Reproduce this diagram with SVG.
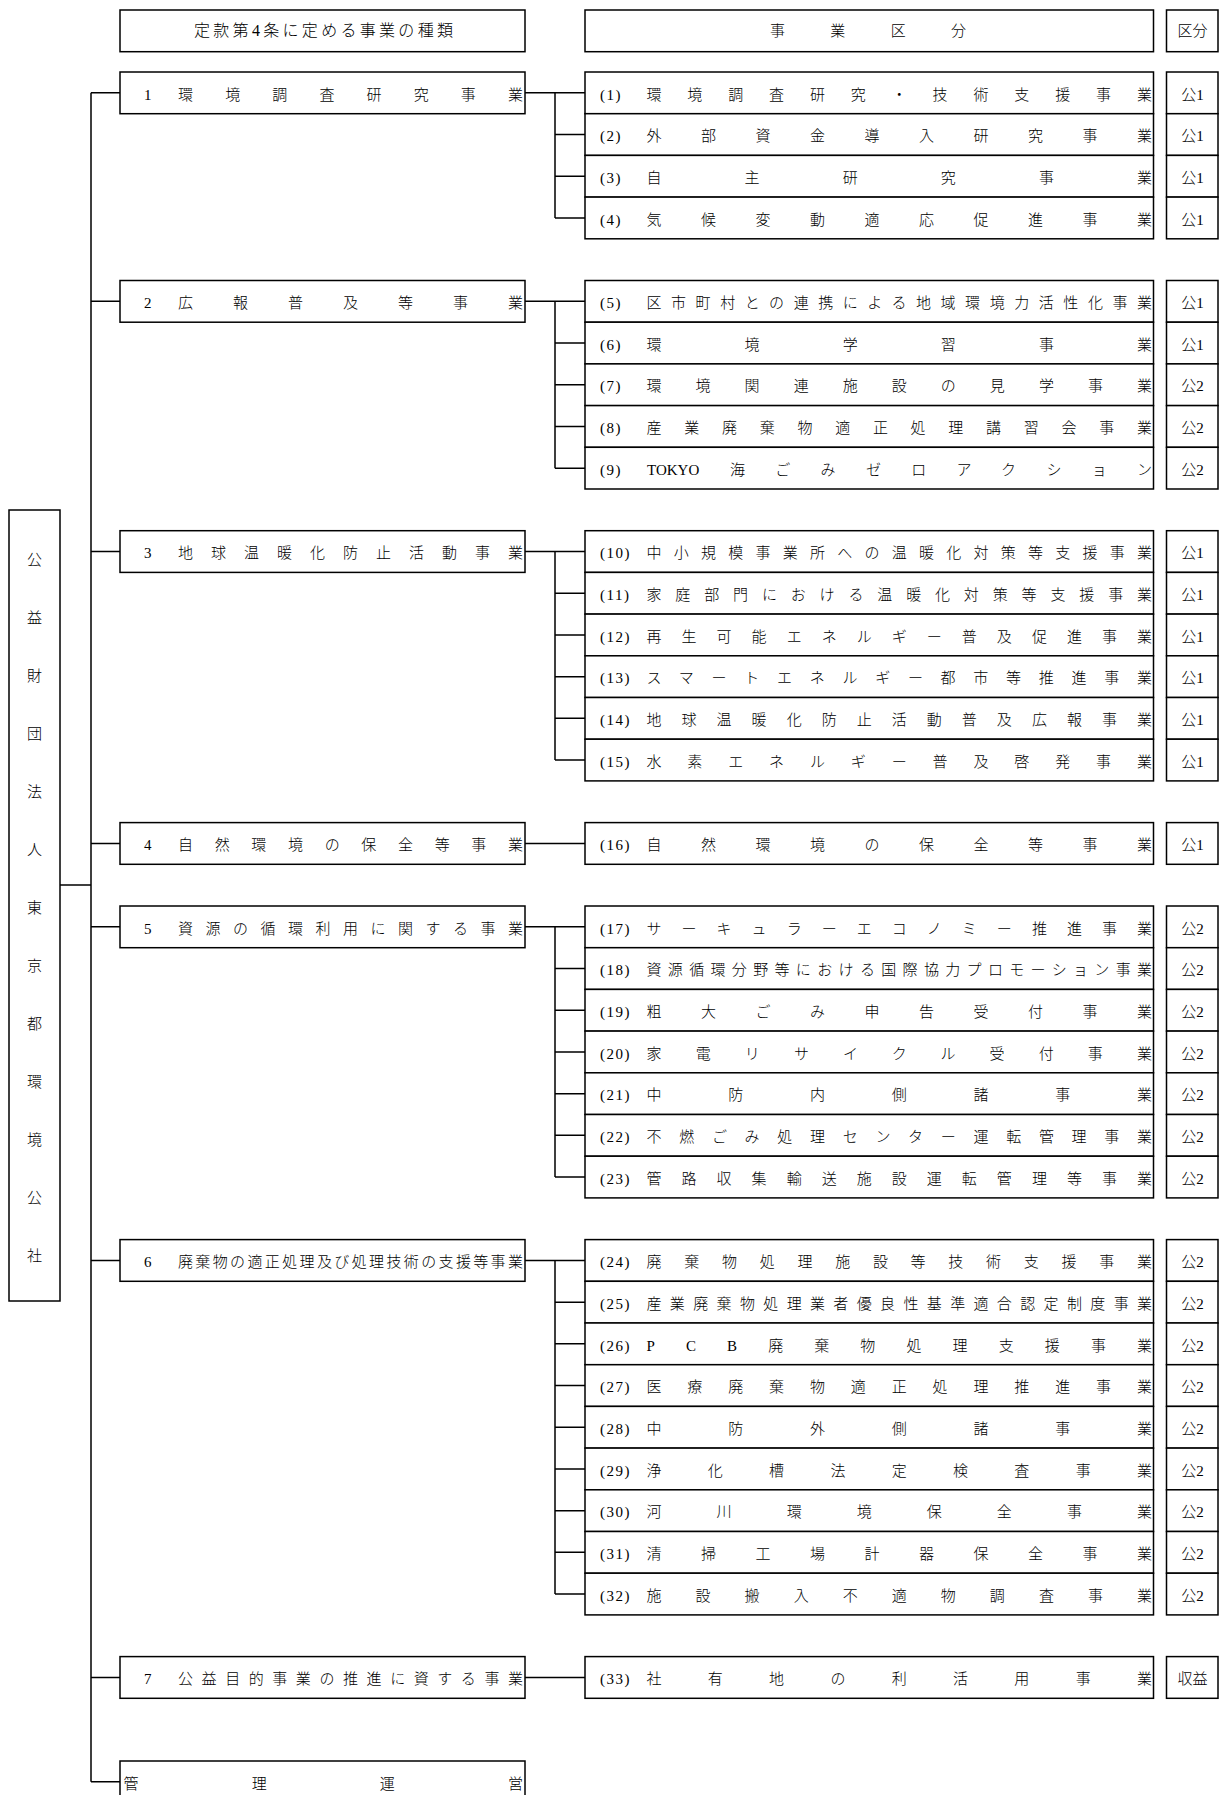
<svg xmlns="http://www.w3.org/2000/svg" width="1221" height="1795" viewBox="0 0 1221 1795">
<style>
.b{fill:#fff;stroke:#000;stroke-width:1.5}
.c{fill:none;stroke:#000;stroke-width:1.5}
text{font-family:"Liberation Serif","Noto Sans CJK JP",serif;font-size:15px;font-weight:300;fill:#000}
.m{text-anchor:middle}
.l{letter-spacing:1.5px}
</style>
<rect width="1221" height="1795" fill="#fff"/>
<g id="connectors" class="c">
<path d="M91 92.85V1781.85M60 885H91M91 92.85H120M91 301.35H120M91 551.55H120M91 843.45H120M91 926.85H120M91 1260.45H120M91 1677.45H120M91 1781.85H120"/>
<path d="M525 92.85H585M555 92.85V217.95M555 134.55H585M555 176.25H585M555 217.95H585"/>
<path d="M525 301.35H585M555 301.35V468.15M555 343.05H585M555 384.75H585M555 426.45H585M555 468.15H585"/>
<path d="M525 551.55H585M555 551.55V760.05M555 593.25H585M555 634.95H585M555 676.65H585M555 718.35H585M555 760.05H585"/>
<path d="M525 843.45H585"/>
<path d="M525 926.85H585M555 926.85V1177.05M555 968.55H585M555 1010.25H585M555 1051.95H585M555 1093.65H585M555 1135.35H585M555 1177.05H585"/>
<path d="M525 1260.45H585M555 1260.45V1594.05M555 1302.15H585M555 1343.85H585M555 1385.55H585M555 1427.25H585M555 1468.95H585M555 1510.65H585M555 1552.35H585M555 1594.05H585"/>
<path d="M525 1677.45H585"/>
</g>
<g id="h1"><rect class="b" x="120" y="10" width="405" height="41.7"/><text x="194" y="36" textLength="259" lengthAdjust="spacing" style="font-size:16px">定款第4条に定める事業の種類</text></g>
<g id="h2"><rect class="b" x="585" y="10" width="568.5" height="41.7"/><text x="770" y="36" textLength="196" lengthAdjust="spacing">事業区分</text></g>
<g id="h3"><rect class="b" x="1166.5" y="10" width="51.5" height="41.7"/><text class="m" x="1192.5" y="36">区分</text></g>
<g id="org"><rect class="b" x="9" y="510" width="51" height="791"/><text class="m" x="34.5 34.5 34.5 34.5 34.5 34.5 34.5 34.5 34.5 34.5 34.5 34.5 34.5" y="564.7 622.7 680.7 738.7 796.7 854.7 912.7 970.7 1028.7 1086.7 1144.7 1202.7 1260.7">公益財団法人東京都環境公社</text></g>
<g id="n1" transform="translate(0,72)"><rect class="b" x="120" width="405" height="41.7"/><text x="144" y="27.5">1</text><text x="178" y="27.5" textLength="345" lengthAdjust="spacing">環境調査研究事業</text></g>
<g id="n2" transform="translate(0,280.5)"><rect class="b" x="120" width="405" height="41.7"/><text x="144" y="27.5">2</text><text x="178" y="27.5" textLength="345" lengthAdjust="spacing">広報普及等事業</text></g>
<g id="n3" transform="translate(0,530.7)"><rect class="b" x="120" width="405" height="41.7"/><text x="144" y="27.5">3</text><text x="178" y="27.5" textLength="345" lengthAdjust="spacing">地球温暖化防止活動事業</text></g>
<g id="n4" transform="translate(0,822.6)"><rect class="b" x="120" width="405" height="41.7"/><text x="144" y="27.5">4</text><text x="178" y="27.5" textLength="345" lengthAdjust="spacing">自然環境の保全等事業</text></g>
<g id="n5" transform="translate(0,906)"><rect class="b" x="120" width="405" height="41.7"/><text x="144" y="27.5">5</text><text x="178" y="27.5" textLength="345" lengthAdjust="spacing">資源の循環利用に関する事業</text></g>
<g id="n6" transform="translate(0,1239.6)"><rect class="b" x="120" width="405" height="41.7"/><text x="144" y="27.5">6</text><text x="178" y="27.5" textLength="345" lengthAdjust="spacing">廃棄物の適正処理及び処理技術の支援等事業</text></g>
<g id="n7" transform="translate(0,1656.6)"><rect class="b" x="120" width="405" height="41.7"/><text x="144" y="27.5">7</text><text x="178" y="27.5" textLength="345" lengthAdjust="spacing">公益目的事業の推進に資する事業</text></g>
<g id="n8" transform="translate(0,1761)"><rect class="b" x="120" width="405" height="41.7"/><text x="123.5" y="27.5" textLength="399.5" lengthAdjust="spacing">管理運営</text></g>
<g id="r1" transform="translate(0,72)"><rect class="b" x="585" width="568.5" height="41.7"/><text class="l" x="600" y="27.5">(1)</text><text x="646.5" y="27.5" textLength="505.5" lengthAdjust="spacing">環境調査研究・技術支援事業</text></g>
<g id="r2" transform="translate(0,113.7)"><rect class="b" x="585" width="568.5" height="41.7"/><text class="l" x="600" y="27.5">(2)</text><text x="646.5" y="27.5" textLength="505.5" lengthAdjust="spacing">外部資金導入研究事業</text></g>
<g id="r3" transform="translate(0,155.4)"><rect class="b" x="585" width="568.5" height="41.7"/><text class="l" x="600" y="27.5">(3)</text><text x="646.5" y="27.5" textLength="505.5" lengthAdjust="spacing">自主研究事業</text></g>
<g id="r4" transform="translate(0,197.1)"><rect class="b" x="585" width="568.5" height="41.7"/><text class="l" x="600" y="27.5">(4)</text><text x="646.5" y="27.5" textLength="505.5" lengthAdjust="spacing">気候変動適応促進事業</text></g>
<g id="r5" transform="translate(0,280.5)"><rect class="b" x="585" width="568.5" height="41.7"/><text class="l" x="600" y="27.5">(5)</text><text x="646.5" y="27.5" textLength="505.5" lengthAdjust="spacing">区市町村との連携による地域環境力活性化事業</text></g>
<g id="r6" transform="translate(0,322.2)"><rect class="b" x="585" width="568.5" height="41.7"/><text class="l" x="600" y="27.5">(6)</text><text x="646.5" y="27.5" textLength="505.5" lengthAdjust="spacing">環境学習事業</text></g>
<g id="r7" transform="translate(0,363.9)"><rect class="b" x="585" width="568.5" height="41.7"/><text class="l" x="600" y="27.5">(7)</text><text x="646.5" y="27.5" textLength="505.5" lengthAdjust="spacing">環境関連施設の見学事業</text></g>
<g id="r8" transform="translate(0,405.6)"><rect class="b" x="585" width="568.5" height="41.7"/><text class="l" x="600" y="27.5">(8)</text><text x="646.5" y="27.5" textLength="505.5" lengthAdjust="spacing">産業廃棄物適正処理講習会事業</text></g>
<g id="r9" transform="translate(0,447.3)"><rect class="b" x="585" width="568.5" height="41.7"/><text class="l" x="600" y="27.5">(9)</text><text x="647" y="27.5">TOKYO</text><text x="730" y="27.5" textLength="422" lengthAdjust="spacing">海ごみゼロアクション</text></g>
<g id="r10" transform="translate(0,530.7)"><rect class="b" x="585" width="568.5" height="41.7"/><text class="l" x="600" y="27.5">(10)</text><text x="646.5" y="27.5" textLength="505.5" lengthAdjust="spacing">中小規模事業所への温暖化対策等支援事業</text></g>
<g id="r11" transform="translate(0,572.4)"><rect class="b" x="585" width="568.5" height="41.7"/><text class="l" x="600" y="27.5">(11)</text><text x="646.5" y="27.5" textLength="505.5" lengthAdjust="spacing">家庭部門における温暖化対策等支援事業</text></g>
<g id="r12" transform="translate(0,614.1)"><rect class="b" x="585" width="568.5" height="41.7"/><text class="l" x="600" y="27.5">(12)</text><text x="646.5" y="27.5" textLength="505.5" lengthAdjust="spacing">再生可能エネルギー普及促進事業</text></g>
<g id="r13" transform="translate(0,655.8)"><rect class="b" x="585" width="568.5" height="41.7"/><text class="l" x="600" y="27.5">(13)</text><text x="646.5" y="27.5" textLength="505.5" lengthAdjust="spacing">スマートエネルギー都市等推進事業</text></g>
<g id="r14" transform="translate(0,697.5)"><rect class="b" x="585" width="568.5" height="41.7"/><text class="l" x="600" y="27.5">(14)</text><text x="646.5" y="27.5" textLength="505.5" lengthAdjust="spacing">地球温暖化防止活動普及広報事業</text></g>
<g id="r15" transform="translate(0,739.2)"><rect class="b" x="585" width="568.5" height="41.7"/><text class="l" x="600" y="27.5">(15)</text><text x="646.5" y="27.5" textLength="505.5" lengthAdjust="spacing">水素エネルギー普及啓発事業</text></g>
<g id="r16" transform="translate(0,822.6)"><rect class="b" x="585" width="568.5" height="41.7"/><text class="l" x="600" y="27.5">(16)</text><text x="646.5" y="27.5" textLength="505.5" lengthAdjust="spacing">自然環境の保全等事業</text></g>
<g id="r17" transform="translate(0,906)"><rect class="b" x="585" width="568.5" height="41.7"/><text class="l" x="600" y="27.5">(17)</text><text x="646.5" y="27.5" textLength="505.5" lengthAdjust="spacing">サーキュラーエコノミー推進事業</text></g>
<g id="r18" transform="translate(0,947.7)"><rect class="b" x="585" width="568.5" height="41.7"/><text class="l" x="600" y="27.5">(18)</text><text x="646.5" y="27.5" textLength="505.5" lengthAdjust="spacing">資源循環分野等における国際協力プロモーション事業</text></g>
<g id="r19" transform="translate(0,989.4)"><rect class="b" x="585" width="568.5" height="41.7"/><text class="l" x="600" y="27.5">(19)</text><text x="646.5" y="27.5" textLength="505.5" lengthAdjust="spacing">粗大ごみ申告受付事業</text></g>
<g id="r20" transform="translate(0,1031.1)"><rect class="b" x="585" width="568.5" height="41.7"/><text class="l" x="600" y="27.5">(20)</text><text x="646.5" y="27.5" textLength="505.5" lengthAdjust="spacing">家電リサイクル受付事業</text></g>
<g id="r21" transform="translate(0,1072.8)"><rect class="b" x="585" width="568.5" height="41.7"/><text class="l" x="600" y="27.5">(21)</text><text x="646.5" y="27.5" textLength="505.5" lengthAdjust="spacing">中防内側諸事業</text></g>
<g id="r22" transform="translate(0,1114.5)"><rect class="b" x="585" width="568.5" height="41.7"/><text class="l" x="600" y="27.5">(22)</text><text x="646.5" y="27.5" textLength="505.5" lengthAdjust="spacing">不燃ごみ処理センター運転管理事業</text></g>
<g id="r23" transform="translate(0,1156.2)"><rect class="b" x="585" width="568.5" height="41.7"/><text class="l" x="600" y="27.5">(23)</text><text x="646.5" y="27.5" textLength="505.5" lengthAdjust="spacing">管路収集輸送施設運転管理等事業</text></g>
<g id="r24" transform="translate(0,1239.6)"><rect class="b" x="585" width="568.5" height="41.7"/><text class="l" x="600" y="27.5">(24)</text><text x="646.5" y="27.5" textLength="505.5" lengthAdjust="spacing">廃棄物処理施設等技術支援事業</text></g>
<g id="r25" transform="translate(0,1281.3)"><rect class="b" x="585" width="568.5" height="41.7"/><text class="l" x="600" y="27.5">(25)</text><text x="646.5" y="27.5" textLength="505.5" lengthAdjust="spacing">産業廃棄物処理業者優良性基準適合認定制度事業</text></g>
<g id="r26" transform="translate(0,1323)"><rect class="b" x="585" width="568.5" height="41.7"/><text class="l" x="600" y="27.5">(26)</text><text x="646.5" y="27.5" textLength="505.5" lengthAdjust="spacing">PCB廃棄物処理支援事業</text></g>
<g id="r27" transform="translate(0,1364.7)"><rect class="b" x="585" width="568.5" height="41.7"/><text class="l" x="600" y="27.5">(27)</text><text x="646.5" y="27.5" textLength="505.5" lengthAdjust="spacing">医療廃棄物適正処理推進事業</text></g>
<g id="r28" transform="translate(0,1406.4)"><rect class="b" x="585" width="568.5" height="41.7"/><text class="l" x="600" y="27.5">(28)</text><text x="646.5" y="27.5" textLength="505.5" lengthAdjust="spacing">中防外側諸事業</text></g>
<g id="r29" transform="translate(0,1448.1)"><rect class="b" x="585" width="568.5" height="41.7"/><text class="l" x="600" y="27.5">(29)</text><text x="646.5" y="27.5" textLength="505.5" lengthAdjust="spacing">浄化槽法定検査事業</text></g>
<g id="r30" transform="translate(0,1489.8)"><rect class="b" x="585" width="568.5" height="41.7"/><text class="l" x="600" y="27.5">(30)</text><text x="646.5" y="27.5" textLength="505.5" lengthAdjust="spacing">河川環境保全事業</text></g>
<g id="r31" transform="translate(0,1531.5)"><rect class="b" x="585" width="568.5" height="41.7"/><text class="l" x="600" y="27.5">(31)</text><text x="646.5" y="27.5" textLength="505.5" lengthAdjust="spacing">清掃工場計器保全事業</text></g>
<g id="r32" transform="translate(0,1573.2)"><rect class="b" x="585" width="568.5" height="41.7"/><text class="l" x="600" y="27.5">(32)</text><text x="646.5" y="27.5" textLength="505.5" lengthAdjust="spacing">施設搬入不適物調査事業</text></g>
<g id="r33" transform="translate(0,1656.6)"><rect class="b" x="585" width="568.5" height="41.7"/><text class="l" x="600" y="27.5">(33)</text><text x="646.5" y="27.5" textLength="505.5" lengthAdjust="spacing">社有地の利活用事業</text></g>
<g id="k1" transform="translate(0,72)"><rect class="b" x="1166.5" width="51.5" height="41.7"/><text class="m" x="1192.5" y="27.5">公1</text></g>
<g id="k2" transform="translate(0,113.7)"><rect class="b" x="1166.5" width="51.5" height="41.7"/><text class="m" x="1192.5" y="27.5">公1</text></g>
<g id="k3" transform="translate(0,155.4)"><rect class="b" x="1166.5" width="51.5" height="41.7"/><text class="m" x="1192.5" y="27.5">公1</text></g>
<g id="k4" transform="translate(0,197.1)"><rect class="b" x="1166.5" width="51.5" height="41.7"/><text class="m" x="1192.5" y="27.5">公1</text></g>
<g id="k5" transform="translate(0,280.5)"><rect class="b" x="1166.5" width="51.5" height="41.7"/><text class="m" x="1192.5" y="27.5">公1</text></g>
<g id="k6" transform="translate(0,322.2)"><rect class="b" x="1166.5" width="51.5" height="41.7"/><text class="m" x="1192.5" y="27.5">公1</text></g>
<g id="k7" transform="translate(0,363.9)"><rect class="b" x="1166.5" width="51.5" height="41.7"/><text class="m" x="1192.5" y="27.5">公2</text></g>
<g id="k8" transform="translate(0,405.6)"><rect class="b" x="1166.5" width="51.5" height="41.7"/><text class="m" x="1192.5" y="27.5">公2</text></g>
<g id="k9" transform="translate(0,447.3)"><rect class="b" x="1166.5" width="51.5" height="41.7"/><text class="m" x="1192.5" y="27.5">公2</text></g>
<g id="k10" transform="translate(0,530.7)"><rect class="b" x="1166.5" width="51.5" height="41.7"/><text class="m" x="1192.5" y="27.5">公1</text></g>
<g id="k11" transform="translate(0,572.4)"><rect class="b" x="1166.5" width="51.5" height="41.7"/><text class="m" x="1192.5" y="27.5">公1</text></g>
<g id="k12" transform="translate(0,614.1)"><rect class="b" x="1166.5" width="51.5" height="41.7"/><text class="m" x="1192.5" y="27.5">公1</text></g>
<g id="k13" transform="translate(0,655.8)"><rect class="b" x="1166.5" width="51.5" height="41.7"/><text class="m" x="1192.5" y="27.5">公1</text></g>
<g id="k14" transform="translate(0,697.5)"><rect class="b" x="1166.5" width="51.5" height="41.7"/><text class="m" x="1192.5" y="27.5">公1</text></g>
<g id="k15" transform="translate(0,739.2)"><rect class="b" x="1166.5" width="51.5" height="41.7"/><text class="m" x="1192.5" y="27.5">公1</text></g>
<g id="k16" transform="translate(0,822.6)"><rect class="b" x="1166.5" width="51.5" height="41.7"/><text class="m" x="1192.5" y="27.5">公1</text></g>
<g id="k17" transform="translate(0,906)"><rect class="b" x="1166.5" width="51.5" height="41.7"/><text class="m" x="1192.5" y="27.5">公2</text></g>
<g id="k18" transform="translate(0,947.7)"><rect class="b" x="1166.5" width="51.5" height="41.7"/><text class="m" x="1192.5" y="27.5">公2</text></g>
<g id="k19" transform="translate(0,989.4)"><rect class="b" x="1166.5" width="51.5" height="41.7"/><text class="m" x="1192.5" y="27.5">公2</text></g>
<g id="k20" transform="translate(0,1031.1)"><rect class="b" x="1166.5" width="51.5" height="41.7"/><text class="m" x="1192.5" y="27.5">公2</text></g>
<g id="k21" transform="translate(0,1072.8)"><rect class="b" x="1166.5" width="51.5" height="41.7"/><text class="m" x="1192.5" y="27.5">公2</text></g>
<g id="k22" transform="translate(0,1114.5)"><rect class="b" x="1166.5" width="51.5" height="41.7"/><text class="m" x="1192.5" y="27.5">公2</text></g>
<g id="k23" transform="translate(0,1156.2)"><rect class="b" x="1166.5" width="51.5" height="41.7"/><text class="m" x="1192.5" y="27.5">公2</text></g>
<g id="k24" transform="translate(0,1239.6)"><rect class="b" x="1166.5" width="51.5" height="41.7"/><text class="m" x="1192.5" y="27.5">公2</text></g>
<g id="k25" transform="translate(0,1281.3)"><rect class="b" x="1166.5" width="51.5" height="41.7"/><text class="m" x="1192.5" y="27.5">公2</text></g>
<g id="k26" transform="translate(0,1323)"><rect class="b" x="1166.5" width="51.5" height="41.7"/><text class="m" x="1192.5" y="27.5">公2</text></g>
<g id="k27" transform="translate(0,1364.7)"><rect class="b" x="1166.5" width="51.5" height="41.7"/><text class="m" x="1192.5" y="27.5">公2</text></g>
<g id="k28" transform="translate(0,1406.4)"><rect class="b" x="1166.5" width="51.5" height="41.7"/><text class="m" x="1192.5" y="27.5">公2</text></g>
<g id="k29" transform="translate(0,1448.1)"><rect class="b" x="1166.5" width="51.5" height="41.7"/><text class="m" x="1192.5" y="27.5">公2</text></g>
<g id="k30" transform="translate(0,1489.8)"><rect class="b" x="1166.5" width="51.5" height="41.7"/><text class="m" x="1192.5" y="27.5">公2</text></g>
<g id="k31" transform="translate(0,1531.5)"><rect class="b" x="1166.5" width="51.5" height="41.7"/><text class="m" x="1192.5" y="27.5">公2</text></g>
<g id="k32" transform="translate(0,1573.2)"><rect class="b" x="1166.5" width="51.5" height="41.7"/><text class="m" x="1192.5" y="27.5">公2</text></g>
<g id="k33" transform="translate(0,1656.6)"><rect class="b" x="1166.5" width="51.5" height="41.7"/><text class="m" x="1192.5" y="27.5">収益</text></g>
</svg>
